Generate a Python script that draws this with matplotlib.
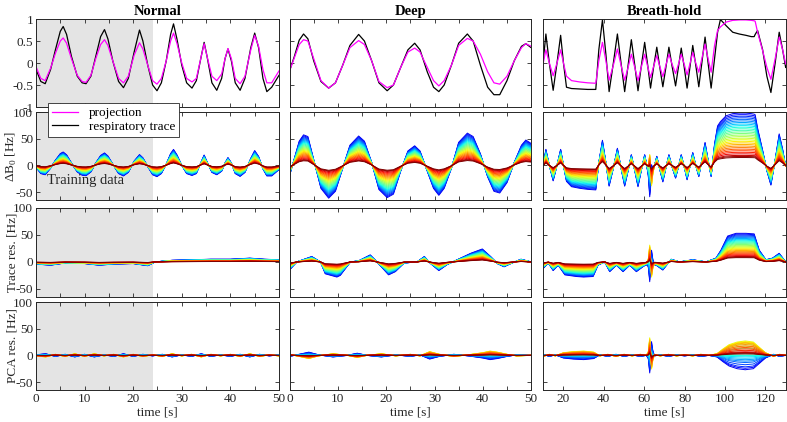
import numpy as np
import matplotlib.pyplot as plt
from matplotlib.lines import Line2D
from matplotlib.ticker import MultipleLocator

plt.rcParams['font.family'] = 'Liberation Serif'
plt.rcParams['mathtext.fontset'] = 'custom'
plt.rcParams['mathtext.rm'] = 'Liberation Serif'
plt.rcParams['axes.unicode_minus'] = False

titles = ["Normal", "Deep", "Breath-hold"]
ylabels = ["", "ΔB$_0$ [Hz]", "Trace res. [Hz]", "PCA res. [Hz]"]

# ---- respiratory trace / projection (row 1) ----
t_normal = [0, 1.0, 1.9, 3.0, 4.0, 5.0, 5.6, 6.3, 7.3, 8.5, 9.5, 10.3, 11.3, 12.3, 13.3, 14.1,
            14.8, 15.8, 17.0, 18.0, 19.0, 20.2, 21.3, 22.0, 23.0, 24.0, 24.9, 25.8, 26.8, 27.7,
            28.3, 29.0, 30.0, 31.0, 32.1, 33.0, 34.0, 34.6, 35.2, 36.2, 37.2, 38.2, 38.9, 39.5,
            40.2, 41.0, 42.0, 43.0, 44.2, 45.0, 45.8, 46.7, 47.5, 48.5, 50.0]
resp_normal = [-0.14, -0.42, -0.47, -0.15, 0.30, 0.72, 0.83, 0.65, 0.15, -0.30, -0.45, -0.47, -0.30,
               0.15, 0.60, 0.76, 0.55, 0.05, -0.42, -0.56, -0.35, 0.25, 0.75, 0.50, -0.05, -0.50,
               -0.63, -0.45, 0.05, 0.65, 0.89, 0.55, -0.05, -0.45, -0.57, -0.40, 0.15, 0.47, 0.15,
               -0.45, -0.62, -0.35, 0.10, 0.32, 0.05, -0.45, -0.62, -0.35, 0.35, 0.68, 0.35, -0.35,
               -0.65, -0.55, -0.28]
proj_normal = [-0.08, -0.35, -0.40, -0.12, 0.22, 0.50, 0.57, 0.45, 0.10, -0.28, -0.42, -0.44, -0.28,
               0.10, 0.42, 0.53, 0.40, 0.05, -0.35, -0.45, -0.30, 0.18, 0.46, 0.32, -0.05, -0.40,
               -0.48, -0.35, 0.05, 0.50, 0.68, 0.45, 0.00, -0.35, -0.43, -0.35, 0.15, 0.44, 0.15,
               -0.30, -0.40, -0.25, 0.10, 0.33, 0.10, -0.35, -0.47, -0.30, 0.30, 0.63, 0.38, -0.15,
               -0.45, -0.45, -0.18]

t_deep = [0, 1.0, 2.0, 2.9, 3.8, 5.0, 6.5, 8.1, 9.5, 11.0, 12.5, 14.3, 15.5, 17.0, 18.5, 20.2, 21.5,
          23.0, 24.5, 25.9, 27.0, 28.5, 29.8, 30.9, 32.0, 33.5, 35.0, 36.8, 38.0, 39.5, 41.0, 42.3,
          43.5, 45.0, 46.5, 48.0, 48.9, 50.0]
resp_deep = [-0.18, 0.15, 0.52, 0.66, 0.55, 0.05, -0.42, -0.57, -0.45, -0.05, 0.40, 0.65, 0.50, 0.05,
             -0.45, -0.63, -0.50, -0.10, 0.30, 0.45, 0.30, -0.20, -0.55, -0.65, -0.50, -0.05, 0.45,
             0.66, 0.50, -0.05, -0.55, -0.72, -0.72, -0.40, 0.05, 0.38, 0.44, 0.35]
proj_deep = [-0.18, 0.12, 0.42, 0.53, 0.50, 0.10, -0.40, -0.57, -0.45, -0.05, 0.35, 0.51, 0.42, 0.05,
             -0.42, -0.56, -0.50, -0.10, 0.25, 0.34, 0.25, -0.10, -0.40, -0.52, -0.40, -0.05, 0.40,
             0.56, 0.50, 0.20, -0.20, -0.45, -0.48, -0.30, 0.05, 0.35, 0.44, 0.38]

t_hold = [10.0, 11.3, 13.0, 14.9, 16.8, 18.6, 20.0, 21.5, 24, 28, 32, 36.0, 37.5, 39.3, 41.0, 42.6,
          44.7, 46.7, 48.5, 50.3, 52.0, 53.6, 55.3, 56.9, 58.5, 60.2, 61.7, 63.1, 64.6, 66.2, 67.7,
          69.2, 70.7, 72.2, 73.8, 75.5, 76.9, 78.3, 79.8, 81.2, 82.6, 84.0, 85.5, 87.0, 88.5, 90.1,
          91.6, 93.1, 94.8, 96.3, 97.7, 100.5, 103.8, 107, 110.3, 113, 114.4, 114.9, 116.1, 118.6,
          120.7, 122.7, 124.8, 126.8, 128.5, 130.0]
resp_hold = [0.05, 0.66, 0.0, -0.62, 0.0, 0.63, 0.0, -0.55, -0.58, -0.59, -0.60, -0.60, 0.30, 0.98,
             0.20, -0.65, 0.0, 0.66, 0.0, -0.65, -0.05, 0.53, -0.05, -0.63, -0.08, 0.47, -0.05, -0.57,
             -0.10, 0.36, -0.10, -0.54, -0.10, 0.36, -0.08, -0.52, -0.10, 0.34, -0.10, -0.57, -0.10,
             0.40, -0.05, -0.54, 0.00, 0.59, 0.00, -0.57, 0.10, 0.70, 0.99, 0.85, 0.70, 0.66, 0.63,
             0.60, 0.60, 0.65, 0.74, 0.30, -0.30, -0.67, 0.00, 0.70, 0.30, -0.10]
proj_hold = [0.0, 0.30, 0.0, -0.29, 0.0, 0.30, 0.0, -0.30, -0.40, -0.43, -0.45, -0.46, 0.05, 0.47,
             0.05, -0.39, -0.05, 0.32, -0.05, -0.39, -0.10, 0.20, -0.10, -0.40, -0.10, 0.20, -0.08,
             -0.33, -0.08, 0.17, -0.08, -0.31, -0.05, 0.20, -0.03, -0.24, -0.03, 0.20, -0.03, -0.27,
             -0.02, 0.24, 0.00, -0.21, 0.10, 0.43, 0.10, -0.21, 0.40, 0.74, 0.82, 0.93, 0.97, 0.98,
             0.98, 0.97, 0.96, 0.95, 0.70, 0.28, -0.10, -0.37, 0.10, 0.59, 0.30, -0.02]

# peak field change [Hz] of the strongest channel per unit projection
db0_gain = [44, 108, 100]

# ---- trace residual, strongest channel [Hz] ----
tres_t_normal = [0, 3, 6, 10, 13, 16, 20, 23, 24.5, 28, 32, 36, 40, 44, 47, 50]
tres_normal = [-4, -6, -2, -3, -6, -4, -3, -7, 0, 3, 4, 5, 5, 7, 5, 4]
tres_t_deep = [0, 1.5, 4.6, 6.4, 7.4, 9.8, 10.5, 12.6, 14.3, 16.7, 18.1, 20.5, 21.9, 23.7, 26.4, 27.9,
               29.2, 30.9, 32.6, 34.7, 37.5, 39.9, 41.6, 43.0, 44.4, 45.8, 47.9, 50]
tres_deep = [-15, 0, 10, 0, -22, -28, -25, 0, 2, 13, 0, -24, -18, -2, 0, 10, -3, -16, -5, 4, 16, 24,
             10, -3, -9, -3, 5, 0]
tres_t_hold = [10, 12.5, 14.9, 17.4, 20.7, 26.4, 30, 34.7, 37.1, 40.4, 42.9, 46.2, 49.5, 52.8, 56.1,
               59.3, 61.8, 65.9, 69.2, 73.3, 77.4, 84.0, 90.6, 95.5, 98.0, 101.3, 105.4, 110.3, 114.4,
               116.9, 120.2, 123.5, 126.8, 130]
tres_hold = [-12, -2, -16, -6, -24, -27, -28, -27, -6, 0, -18, -6, -18, -6, -18, -9, -3, -6, -15, 5, 0,
             4, 0, 7, 22, 48, 53, 53, 52, 22, 4, 7, 16, 0]

# ---- PCA residual, strongest channel [Hz] ----
pres_t_normal = [0, 2, 4, 6, 8, 10, 12, 14, 16, 18, 20, 22, 24, 26, 28, 30, 32, 34, 36, 38, 40, 42,
                 44, 46, 48, 50]
pres_normal = [1, 3, -2, 2, -3, 2, -3, 1, -2, 3, -2, 2, -1, 2, -3, 1, -2, 3, -2, 1, -2, 2, -3, 2, -1, 1]
pres_t_deep = [0, 2, 4, 6, 9, 12, 14, 16, 19, 22, 25, 27, 29, 31, 34, 37, 40, 41.5, 43, 45, 47, 50]
pres_deep = [-2, 2, 6, 1, -3, 0, 4, 0, -3, 1, -2, 1, -7, -2, 2, -1, -5, -8, -6, -2, 1, 0]
pres_t_hold = [10, 13, 16, 20, 25, 30, 35, 38, 42, 46, 50, 54, 58, 61, 63, 65, 68, 72, 76, 80, 84, 88,
               92, 96, 99, 102, 106, 110, 114, 117, 120, 124, 127, 130]
pres_hold = [2, -2, 1, -5, -7, -8, -6, 1, -2, 2, -2, 1, -2, 0, 0, -1, 1, -2, 1, -1, 1, -2, 0, -3, -12,
             -20, -25, -27, -25, -15, -5, 2, -2, 0]

# transient at ~63 s in the breath-hold scan
spike_t = [61.0, 62.0, 62.7, 63.1, 63.6, 64.2, 65.0]
spike_v = [0, 6, 33, 10, -26, -10, 0]

# channel weights, strongest (blue) to weakest (dark red)
chan_gain = [1.00, 0.97, 0.94, 0.91, 0.88, 0.85, 0.82, 0.79, 0.76, 0.73, 0.70, 0.67, 0.64, 0.61, 0.58,
             0.55, 0.52, 0.49, 0.46, 0.43, 0.40, 0.37, 0.34, 0.31, 0.28, 0.25, 0.22, 0.19, 0.17, 0.15]
chan_pca = [1.0, 0.9, 0.8, 0.65, 0.5, 0.4, 0.3, 0.2, 0.1, 0.0, -0.1, -0.2, -0.35, -0.5, -0.65, -0.8,
            -0.9, -1.0, -0.95, -0.9, -0.85, -0.75, -0.65, -0.55, -0.45, -0.35, -0.25, -0.2, -0.15, -0.1]

train_end = 24

cols = [
    dict(t=t_normal, resp=resp_normal, proj=proj_normal, tres_t=tres_t_normal, tres=tres_normal,
         pres_t=pres_t_normal, pres=pres_normal, xlim=(0, 50), spike=False),
    dict(t=t_deep, resp=resp_deep, proj=proj_deep, tres_t=tres_t_deep, tres=tres_deep,
         pres_t=pres_t_deep, pres=pres_deep, xlim=(0, 50), spike=False),
    dict(t=t_hold, resp=resp_hold, proj=proj_hold, tres_t=tres_t_hold, tres=tres_hold,
         pres_t=pres_t_hold, pres=pres_hold, xlim=(10, 130), spike=True),
]

n = len(chan_gain)
colors = plt.cm.jet(np.linspace(0.1, 1.0, n))
dark = '#262626'

fig = plt.figure(figsize=(7.87, 4.22), dpi=100)
lefts = [0.0457, 0.3679, 0.6903]
widths = [0.3088, 0.3070, 0.3080]
bottoms = [0.7464, 0.5260, 0.2962, 0.0758]
heights = [0.2085, 0.2085, 0.2110, 0.2085]


def with_spike(t, v, on):
    t = np.asarray(t, float)
    v = np.asarray(v, float)
    if not on:
        return t, v, np.zeros_like(v)
    tu = np.union1d(t, spike_t)
    return tu, np.interp(tu, t, v), np.interp(tu, spike_t, spike_v, left=0, right=0)


for c, d in enumerate(cols):
    for r in range(4):
        ax = fig.add_axes([lefts[c], bottoms[r], widths[c], heights[r]])
        if c == 0:
            ax.axvspan(0, train_end, color='#e4e4e4', lw=0, zorder=0)
        if r == 0:
            ax.plot(d['t'], d['resp'], color='black', lw=0.9)
            ax.plot(d['t'], d['proj'], color='#ff00ff', lw=0.9)
            ax.set_ylim(-1, 1)
            ax.set_yticks([-1, -0.5, 0, 0.5, 1])
            ax.set_yticklabels(['-1', '-0.5', '0', '0.5', '1'])
            ax.set_title(titles[c], fontsize=10.5, fontweight='bold', pad=3)
        else:
            if r == 1:
                tt, base, sp = with_spike(d['t'], np.asarray(d['proj']) * db0_gain[c], d['spike'])
                w = chan_gain
            elif r == 2:
                tt, base, sp = with_spike(d['tres_t'], d['tres'], d['spike'])
                w = chan_gain
            else:
                tt, base, sp = with_spike(d['pres_t'], d['pres'], d['spike'])
                w = chan_pca
            for k in range(n):
                ax.plot(tt, w[k] * base - chan_pca[k] * sp, color=colors[k], lw=0.7)
            ax.set_ylim(-65, 100)
            ax.set_yticks([-50, 0, 50, 100])
        ax.set_xlim(*d['xlim'])
        if c < 2:
            ax.xaxis.set_major_locator(MultipleLocator(10))
            ax.xaxis.set_minor_locator(MultipleLocator(5))
        else:
            ax.xaxis.set_major_locator(MultipleLocator(20))
        ax.tick_params(which='both', direction='in', top=True, right=True, length=3, width=0.6,
                       labelsize=9.5, colors=dark, pad=2)
        for s in ax.spines.values():
            s.set_color(dark)
            s.set_linewidth(0.7)
        if r < 3:
            ax.set_xticklabels([])
        else:
            ax.set_xlabel('time [s]', fontsize=9.5, labelpad=1, color=dark)
        if c > 0:
            ax.set_yticklabels([])
        elif r > 0:
            ax.set_ylabel(ylabels[r], fontsize=9.5, color=dark)
            ax.yaxis.set_label_coords(-0.07, 0.5)
        if c == 0 and r == 1:
            ax.text(2.3, -29, 'Training data', fontsize=10.5, va='center', color=dark)

handles = [Line2D([], [], color='#ff00ff', lw=0.9), Line2D([], [], color='black', lw=0.9)]
leg = fig.legend(handles, ['projection', 'respiratory trace'], loc='upper left',
                 bbox_to_anchor=(47.7 / 787, 1 - 103 / 422), fontsize=9.5, frameon=True,
                 fancybox=False, edgecolor=dark, framealpha=1, borderaxespad=0,
                 handlelength=2.0, labelspacing=0.1, borderpad=0.3)
leg.get_frame().set_linewidth(0.6)

fig.savefig('out.png', dpi=100)
